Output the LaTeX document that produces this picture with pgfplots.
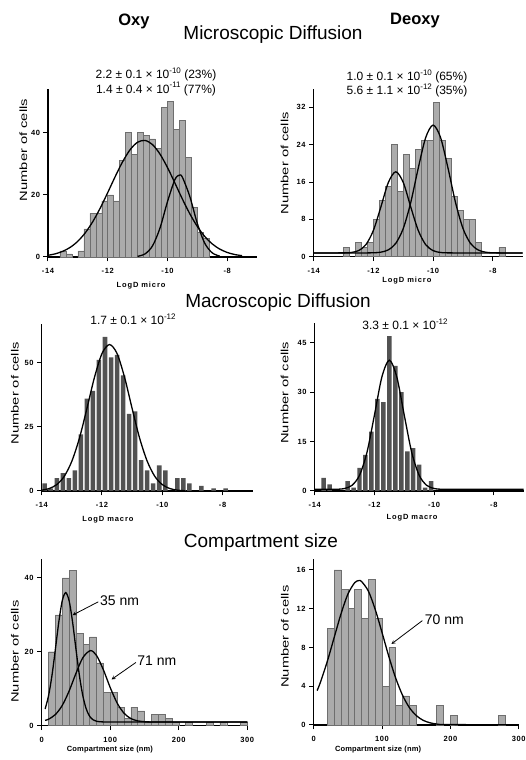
\documentclass[border=0pt]{standalone}
\usepackage{fontspec}
\setmainfont{Liberation Sans}
\usepackage{graphicx}
\usepackage{pgfplots}
\pgfplotsset{compat=1.18}

\newcommand{\sups}[1]{\raisebox{0.45em}{\fontsize{8}{8}\selectfont #1}}

\definecolor{lightbar}{HTML}{ABABAB}
\definecolor{lightedge}{HTML}{6E6E6E}
\definecolor{darkbar}{HTML}{525252}

\pgfplotsset{
 panel/.style={
  scale only axis, anchor=south west,
  axis lines*=left, axis line style={line width=1.1pt, -},
  tick align=outside, major tick length=4.5pt,
  tick style={line width=1pt, black},
  ymin=0, clip=false,
  tick label style={font=\fontsize{7.5}{8}\selectfont\bfseries\addfontfeature{LetterSpace=8}},
  xticklabel style={yshift=-3.5pt},
  /pgf/number format/assume math mode=true,
  xlabel style={font=\fontsize{7.5}{8}\selectfont\bfseries\addfontfeature{LetterSpace=12}, anchor=center},
  ylabel style={font=\fontsize{10.5}{11}\selectfont, anchor=center},
  ylabel={\scalebox{1.4}[1]{Number of cells}},
 },
 logd/.style={panel, xmin=-14, xmax=-7, xtick={-14,-12,-10,-8}, width=209pt, height=168pt},
 cmp/.style={panel, xmin=0, xmax=300, xtick={0,100,200,300}, width=205.5pt, height=166pt, xlabel={Compartment size (nm)},
   xlabel style={font=\fontsize{7.5}{8}\selectfont\bfseries\addfontfeature{LetterSpace=2}}},
 lbar/.style={ybar, bar shift=0pt, fill=lightbar, draw=lightedge, line width=0.45pt},
 dbar/.style={ybar, bar shift=0pt, fill=darkbar, draw=none},
 fit/.style={black, line width=1.3pt, smooth},
}

\begin{document}
\begin{tikzpicture}
\useasboundingbox (0pt,0pt) rectangle (526pt,760pt);

% ---------- Panel 1: Oxy micro ----------
\begin{axis}[logd, at={(48pt,503pt)}, ymax=54, ytick={0,20,40},
  xlabel={LogD micro},
  xlabel style={at={(axis description cs:0.445,-0.172)}},
  ylabel style={at={(axis description cs:-0.118,0.637)}}]
\addplot[lbar, bar width=0.2] coordinates {
(-13.5,2) (-13.3,1) (-12.9,2) (-12.7,9) (-12.5,14) (-12.3,14) (-12.1,18) (-11.9,20)
(-11.7,18) (-11.5,31) (-11.3,40) (-11.1,33) (-10.9,40) (-10.7,39) (-10.5,38) (-10.3,35)
(-10.1,48) (-9.9,50) (-9.7,41) (-9.5,44) (-9.3,32) (-9.1,16) (-8.9,8) (-8.7,6)};
\addplot[fit] coordinates {
(-14,0.55) (-13.75,1.03) (-13.5,1.85) (-13.25,3.14) (-13,5.07) (-12.75,7.79) (-12.5,11.36)
(-12.25,15.73) (-12,20.69) (-11.75,25.83) (-11.5,30.63) (-11.25,34.49) (-11,36.89)
(-10.75,37.46) (-10.5,36.13) (-10.25,33.09) (-10,28.79) (-9.75,23.78) (-9.5,18.65)
(-9.25,13.89) (-9,9.83) (-8.75,6.60) (-8.5,4.21) (-8.25,2.55) (-8,1.47) (-7.75,0.80) (-7.5,0.42)};
\addplot[fit] coordinates {
(-11,0.21) (-10.75,1.00) (-10.5,3.56) (-10.25,9.27) (-10,17.72) (-9.75,24.88) (-9.6,26.3)
(-9.5,25.66) (-9.25,19.44) (-9,10.81) (-8.75,4.42) (-8.5,1.33) (-8.25,0.29)};
\end{axis}

% ---------- Panel 2: Deoxy micro ----------
\begin{axis}[logd, at={(313.7pt,503.3pt)}, ymax=36, ytick={0,8,16,24,32},
  xlabel={LogD micro},
  xlabel style={at={(axis description cs:0.446,-0.14)}},
  ylabel style={at={(axis description cs:-0.139,0.556)}}]
\addplot[lbar, bar width=0.2] coordinates {
(-12.9,2) (-12.5,3) (-12.3,2) (-12.1,3) (-11.9,8) (-11.7,12) (-11.5,15) (-11.3,24)
(-11.1,14) (-10.9,22) (-10.7,19) (-10.5,23) (-10.3,25) (-10.1,25) (-9.9,33) (-9.7,25)
(-9.5,21) (-9.3,13) (-9.1,10) (-8.9,8) (-8.7,8) (-8.5,3) (-7.7,2)};
\addplot[fit] coordinates {
(-14,0.8) (-13,0.82) (-12.75,0.90) (-12.5,1.30) (-12.25,2.59) (-12,5.65) (-11.75,10.66)
(-11.5,15.9) (-11.25,18.2) (-11,15.9) (-10.75,10.66) (-10.5,5.65) (-10.25,2.59) (-10,1.30)
(-9.75,0.90) (-9.5,0.82) (-8.5,0.8) (-7,0.8)};
\addplot[fit] coordinates {
(-14,0.8) (-12.5,0.8) (-12,0.84) (-11.75,0.97) (-11.5,1.47) (-11.25,2.87) (-11,6.05)
(-10.75,11.61) (-10.5,18.93) (-10.25,25.51) (-10,28.2) (-9.75,25.51) (-9.5,18.93)
(-9.25,11.61) (-9,6.05) (-8.75,2.87) (-8.5,1.47) (-8.25,0.97) (-8,0.84) (-7.5,0.8) (-7,0.8)};
\end{axis}

% ---------- Panel 3: Oxy macro ----------
\begin{axis}[logd, at={(41.7pt,269pt)}, width=211pt, height=167pt, ymax=65, ytick={0,25,50},
  xlabel={LogD macro},
  xlabel style={at={(axis description cs:0.314,-0.174)}},
  ylabel style={at={(axis description cs:-0.127,0.585)}}]
\addplot[dbar, bar width=0.15] coordinates {
(-13.9,3) (-13.7,1) (-13.5,5) (-13.3,7) (-13.1,5) (-12.9,8) (-12.7,22) (-12.5,36)
(-12.3,39) (-12.1,51) (-11.9,60) (-11.7,52) (-11.5,53) (-11.3,45) (-11.1,30) (-10.9,31)
(-10.7,12) (-10.5,8) (-10.3,3) (-10.1,10) (-9.9,8) (-9.5,5) (-9.3,5) (-9.1,3)
(-8.7,2) (-8.3,1) (-7.9,1)};
\addplot[fit] coordinates {
(-14,0.33) (-13.75,0.96) (-13.5,2.5) (-13.25,5.74) (-13,11.6) (-12.75,20.5) (-12.5,32.1)
(-12.25,44.2) (-12,53.5) (-11.75,57) (-11.5,53.5) (-11.25,44.2) (-11,32.1) (-10.75,20.5)
(-10.5,11.6) (-10.25,5.74) (-10,2.5) (-9.75,0.96) (-9.5,0.33) (-9.25,0.1)};
\end{axis}

% ---------- Panel 4: Deoxy macro ----------
\begin{axis}[logd, at={(314.7pt,269pt)}, ymax=51, ytick={0,15,30,45},
  xlabel={LogD macro},
  xlabel style={at={(axis description cs:0.466,-0.161)}},
  ylabel style={at={(axis description cs:-0.144,0.585)}}]
\addplot[dbar, bar width=0.15] coordinates {
(-13.7,4) (-13.5,2) (-12.9,3) (-12.7,1) (-12.5,7) (-12.3,11) (-12.1,18) (-11.9,28)
(-11.7,27) (-11.5,47) (-11.3,38) (-11.1,30) (-10.9,12) (-10.7,13) (-10.5,8) (-10.3,1) (-10.1,3)};
\addplot[fit] coordinates {
(-14,0.5) (-13.25,0.54) (-13,0.76) (-12.75,1.72) (-12.5,4.75) (-12.25,11.7) (-12,23.0)
(-11.75,34.6) (-11.5,39.7) (-11.25,34.6) (-11,23.0) (-10.75,11.7) (-10.5,4.75) (-10.25,1.72)
(-10,0.76) (-9.75,0.54) (-9,0.5) (-7,0.5)};
\end{axis}

% ---------- Panel 5: Oxy compartment ----------
\begin{axis}[cmp, at={(41.7pt,34.3pt)}, width=205.6pt, height=166.4pt, ymax=45, ytick={0,20,40},
  xlabel style={at={(axis description cs:0.332,-0.146)}},
  ylabel style={at={(axis description cs:-0.13,0.445)}}]
\addplot[lbar, bar width=10] coordinates {
(15,20) (25,30) (35,40) (45,42) (55,25) (65,22) (75,24) (85,17) (95,9) (105,9)
(115,5) (125,2) (135,5) (145,4) (155,1) (165,3) (175,3) (185,2) (195,1) (215,1)
(245,1) (265,1) (295,1)};
\addplot[fit] coordinates {
(5,4.52) (10,8.11) (15,13.6) (20,20.7) (25,28.1) (30,33.8) (35,36) (40,33.8) (45,28.1)
(50,20.7) (55,13.6) (60,8.11) (65,4.52) (70,2.54) (75,1.59) (80,1.2) (90,1.02) (120,1) (200,1) (300,1)};
\addplot[fit] coordinates {
(5,1.44) (10,1.76) (20,3.02) (30,5.49) (40,9.38) (50,14.16) (60,18.38) (71,20.3) (80,18.99)
(90,15.11) (100,10.30) (110,6.16) (120,3.40) (130,1.94) (140,1.31) (150,1.09) (160,1.02) (200,1) (300,1)};
\node[anchor=west, inner sep=0pt, font=\fontsize{14}{15}\selectfont] at (axis cs:85,33.7) {35 nm};
\draw[-stealth, line width=0.8pt] (axis cs:82.5,33.5) -- (axis cs:45,29.9);
\node[anchor=west, inner sep=0pt, font=\fontsize{14}{15}\selectfont] at (axis cs:139.3,17.5) {71 nm};
\draw[-stealth, line width=0.8pt] (axis cs:137.4,17.1) -- (axis cs:101.9,12.5);
\end{axis}

% ---------- Panel 6: Deoxy compartment ----------
\begin{axis}[cmp, at={(313.7pt,35pt)}, width=205pt, height=165.7pt, ymax=17.1, ytick={0,4,8,12,16},
  xlabel style={at={(axis description cs:0.314,-0.151)}},
  ylabel style={at={(axis description cs:-0.141,0.533)}}]
\addplot[lbar, bar width=10] coordinates {
(25,10) (35,16) (45,14) (55,12) (65,14) (75,11) (85,15) (95,11) (105,4) (115,8)
(125,2) (135,3) (145,2) (185,2) (205,1) (275,1)};
\addplot[fit] coordinates {
(5,3.55) (10,4.44) (20,6.59) (30,9.04) (40,11.48) (50,13.5) (60,14.69) (66,14.9) (70,14.81)
(80,13.82) (90,11.93) (100,9.54) (110,7.06) (120,4.84) (130,3.07) (140,1.80) (150,0.98)
(160,0.49) (170,0.23) (180,0.10) (190,0.05) (250,0.03) (300,0.03)};
\node[anchor=west, inner sep=0pt, font=\fontsize{14}{15}\selectfont] at (axis cs:162.4,10.87) {70 nm};
\draw[-stealth, line width=0.8pt] (axis cs:159,10.77) -- (axis cs:113.7,8.36);
\end{axis}

% ---------- Titles and annotations ----------
\node[anchor=base, font=\fontsize{16.5}{18}\selectfont\bfseries] at (134pt,734pt) {Oxy};
\node[anchor=base, font=\fontsize{16.5}{18}\selectfont\bfseries] at (415pt,735pt) {Deoxy};
\node[anchor=base, font=\fontsize{19}{21}\selectfont] at (273pt,720.7pt) {Microscopic Diffusion};
\node[anchor=base, font=\fontsize{19}{21}\selectfont] at (278pt,452.7pt) {Macroscopic Diffusion};
\node[anchor=base, font=\fontsize{19}{21}\selectfont] at (261pt,212.7pt) {Compartment size};

\node[anchor=base, font=\fontsize{12}{13}\selectfont] at (156pt,681pt) {2.2 ± 0.1 × 10\sups{-10} (23\%)};
\node[anchor=base, font=\fontsize{12}{13}\selectfont] at (156pt,666.7pt) {1.4 ± 0.4 × 10\sups{-11} (77\%)};
\node[anchor=base, font=\fontsize{12}{13}\selectfont] at (407pt,679.3pt) {1.0 ± 0.1 × 10\sups{-10} (65\%)};
\node[anchor=base, font=\fontsize{12}{13}\selectfont] at (407pt,665pt) {5.6 ± 1.1 × 10\sups{-12} (35\%)};
\node[anchor=base, font=\fontsize{12}{13}\selectfont] at (133pt,435pt) {1.7 ± 0.1 × 10\sups{-12}};
\node[anchor=base, font=\fontsize{12}{13}\selectfont] at (405pt,430pt) {3.3 ± 0.1 × 10\sups{-12}};
\end{tikzpicture}
\end{document}
